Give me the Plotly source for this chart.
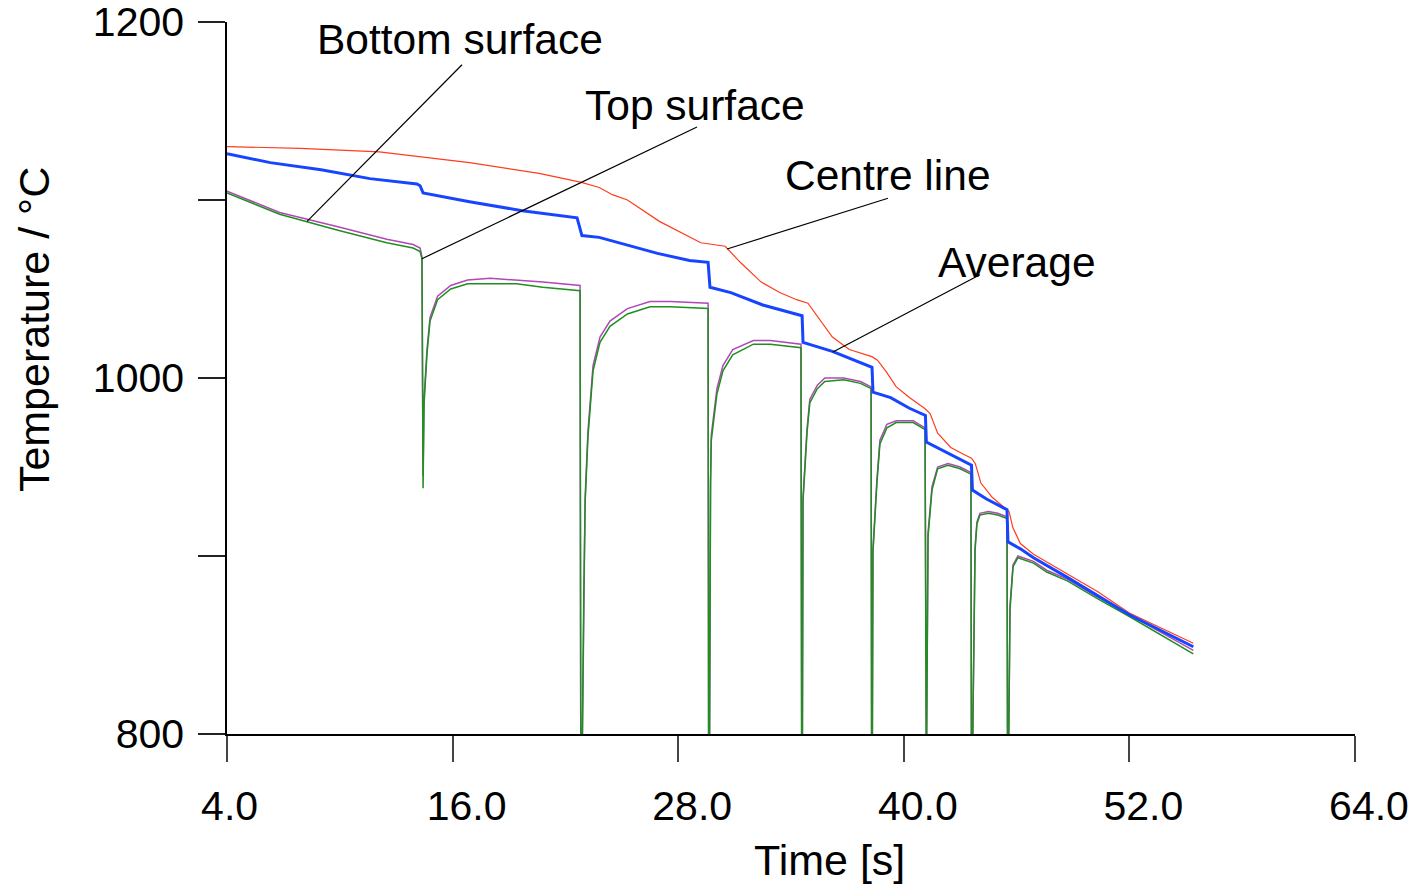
import plotly.graph_objects as go

# ---------------- data ----------------
centre_t = [4.0, 7.9, 12.1, 16.9, 20.6, 22.8, 23.8, 24.5, 25.3, 27.0, 29.2, 30.5, 31.3,
            32.4, 33.4, 34.3, 34.9, 35.5, 36.2, 37.1, 37.7, 38.3, 38.6, 39.1, 39.6, 40.3,
            41.1, 41.4, 41.8, 42.5, 43.2, 43.6, 43.8, 44.1, 44.7, 45.6, 45.8, 46.2, 46.9,
            48.7, 50.3, 52.0, 55.4]
centre_T = [1130, 1129, 1127, 1121, 1115, 1110, 1107, 1103, 1100, 1088, 1076, 1074, 1065,
            1054, 1048, 1044, 1042, 1033, 1023, 1016, 1014, 1012, 1010, 1003, 995, 989,
            983, 980, 969, 961, 957, 955, 952, 941, 933, 925, 916, 907, 901,
            890, 880, 868, 851]

average_t = [4.0, 6.3, 9.0, 11.6, 14.1, 14.27, 14.43, 16.9, 19.7, 22.62, 22.88, 23.8, 26.9,
             28.6, 29.59, 29.69, 30.8, 32.5, 34.59, 34.64, 36.2, 38.31, 38.36, 39.3, 40.3,
             41.15, 41.2, 42.5, 43.6, 43.65, 44.4, 45.49, 45.54, 46.2, 46.9, 48.7, 50.3,
             52.0, 55.4]
average_T = [1126, 1121, 1117, 1112, 1109, 1108, 1104, 1099, 1094, 1090, 1080, 1079, 1070,
             1066, 1065, 1051, 1048, 1041, 1035, 1020, 1015, 1006, 992, 989, 983,
             979, 964, 957, 951, 937, 932, 926, 908, 904, 899, 888, 878,
             867, 849]

top_t = [4.0, 6.8, 9.9, 12.5, 13.9, 14.27, 14.37, 14.43, 14.48, 14.64, 14.8, 15.2, 15.9,
         16.8, 18.0, 19.4, 20.8, 22.78, 22.82, 22.88, 22.98, 23.05, 23.2, 23.47, 23.84,
         24.37, 25.3, 26.5, 27.6, 29.59, 29.62, 29.66, 29.72, 29.76, 30.06, 30.38, 30.9,
         32.0, 32.9, 33.8, 34.53, 34.57, 34.6, 34.64, 34.85, 35.0, 35.4, 35.8, 36.8, 37.7,
         38.26, 38.29, 38.32, 38.36, 38.57, 38.73, 39.1, 39.6, 40.5, 41.13, 41.16, 41.2,
         41.29, 41.5, 41.8, 42.35, 43.0, 43.57, 43.6, 43.64, 43.79, 43.89, 44.05, 44.5,
         45.0, 45.49, 45.52, 45.56, 45.65, 45.76, 45.81, 46.07, 46.9, 47.6, 48.7, 50.3,
         52.0, 55.4]
top_T = [1104, 1092, 1083, 1076, 1073, 1071, 1067, 938, 985, 1014, 1032, 1044, 1050,
         1053, 1053, 1053, 1051, 1049, 775, 775, 880, 930, 967, 1004, 1020,
         1029, 1036, 1040, 1040, 1039, 775, 775, 940, 965, 991, 1004, 1013,
         1019, 1019, 1018, 1017, 775, 775, 931, 969, 986, 994, 998, 999, 997,
         994, 775, 775, 902, 941, 963, 972, 975, 975, 971, 775, 775,
         911, 937, 949, 951, 949, 946, 775, 775, 903, 918, 923, 924,
         923, 921, 775, 775, 870, 888, 894, 899, 896, 891, 886, 876,
         866, 845]

bottom_t = [4.0, 6.8, 9.9, 12.5, 13.9, 14.27, 14.37, 14.43, 14.48, 14.64, 14.8, 15.2, 15.9,
            16.8, 18.0, 19.4, 20.8, 22.78, 22.82, 22.88, 22.98, 23.05, 23.2, 23.47, 23.84,
            24.37, 25.3, 26.5, 27.6, 29.59, 29.62, 29.66, 29.72, 29.76, 30.06, 30.38, 30.9,
            32.0, 32.9, 33.8, 34.53, 34.57, 34.6, 34.64, 34.85, 35.0, 35.4, 35.8, 36.8, 37.7,
            38.26, 38.29, 38.32, 38.36, 38.57, 38.73, 39.1, 39.6, 40.5, 41.13, 41.16, 41.2,
            41.29, 41.5, 41.8, 42.35, 43.0, 43.57, 43.6, 43.64, 43.79, 43.89, 44.05, 44.5,
            45.0, 45.49, 45.52, 45.56, 45.65, 45.76, 45.81, 46.07, 46.9, 47.6, 48.7, 50.3,
            52.0, 55.4]
bottom_T = [1105, 1093, 1085, 1078, 1075, 1073, 1068, 945, 988, 1016, 1034, 1046, 1052,
            1055, 1056, 1055, 1054, 1052, 775, 775, 885, 933, 970, 1007, 1023,
            1032, 1039, 1043, 1043, 1042, 775, 775, 942, 968, 994, 1007, 1016,
            1021, 1021, 1020, 1019, 775, 775, 933, 971, 988, 996, 1000, 1000, 998,
            995, 775, 775, 904, 943, 965, 974, 976, 976, 972, 775, 775,
            913, 939, 950, 952, 950, 947, 775, 775, 905, 919, 924, 925,
            924, 922, 775, 775, 872, 889, 895, 900, 897, 892, 887, 877,
            867, 847]

x_tick_vals = [4, 16, 28, 40, 52, 64]
x_tick_text = ["4.0\u2007", "16.0", "28.0", "40.0", "52.0", "64.0"]
y_tick_vals = [800, 900, 1000, 1100, 1200]
y_tick_text = ["800", "", "1000", "", "1200"]

label_text = ["Bottom surface", "Top surface", "Centre line", "Average"]
label_x = [16.4, 28.9, 39.16, 46.0]
label_y = [1190, 1153, 1114, 1065]
leader_x0 = [16.5, 29.0, 39.16, 44.05]
leader_y0 = [1176, 1141, 1101, 1058]
leader_x1 = [8.26, 14.37, 30.6, 36.23]
leader_y1 = [1088, 1067, 1072.5, 1014.6]

# ---------------- figure ----------------
FONT = "Liberation Sans, Arial, Helvetica, sans-serif"

fig = go.Figure()
fig.add_trace(go.Scatter(x=bottom_t, y=bottom_T, mode="lines", name="Bottom surface",
                         line=dict(color="#b048b8", width=1.5)))
fig.add_trace(go.Scatter(x=top_t, y=top_T, mode="lines", name="Top surface",
                         line=dict(color="#1f8f1f", width=1.5)))
fig.add_trace(go.Scatter(x=centre_t, y=centre_T, mode="lines", name="Centre line",
                         line=dict(color="#ff3c1e", width=1.2)))
fig.add_trace(go.Scatter(x=average_t, y=average_T, mode="lines", name="Average",
                         line=dict(color="#1744ff", width=3)))

for x0, y0, x1, y1 in zip(leader_x0, leader_y0, leader_x1, leader_y1):
    fig.add_shape(type="line", xref="x", yref="y", x0=x0, y0=y0, x1=x1, y1=y1,
                  line=dict(color="black", width=1.2))

for txt, x, y in zip(label_text, label_x, label_y):
    fig.add_annotation(x=x, y=y, xref="x", yref="y", text=txt, showarrow=False,
                       xanchor="center", yanchor="middle",
                       font=dict(family=FONT, size=42.5, color="black"))

fig.add_annotation(x=0.5337, y=-0.177, xref="paper", yref="paper", text="Time [s]",
                   showarrow=False, xanchor="center", yanchor="middle",
                   font=dict(family=FONT, size=43, color="black"))
fig.add_annotation(x=-0.171, y=0.5674, xref="paper", yref="paper", text="Temperature / °C",
                   textangle=-90, showarrow=False, xanchor="center", yanchor="middle",
                   font=dict(family=FONT, size=43, color="black"))

fig.update_layout(
    width=1416, height=885,
    margin=dict(l=227, r=61, t=22, b=151, autoexpand=False),
    paper_bgcolor="white", plot_bgcolor="white",
    showlegend=False,
    font=dict(family=FONT, size=41, color="black"),
    xaxis=dict(range=[4, 64], tickvals=x_tick_vals, ticktext=x_tick_text,
               ticks="outside", ticklen=26, tickwidth=1.5, tickcolor="#444",
               showline=True, linecolor="black", linewidth=1.5,
               showgrid=False, zeroline=False, automargin=False,
               ticklabeloverflow="allow",
               tickfont=dict(family=FONT, size=41, color="black"),
               ticklabelstandoff=9, ticklabelshift=14),
    yaxis=dict(range=[800, 1200], tickvals=y_tick_vals, ticktext=y_tick_text,
               ticks="outside", ticklen=27, tickwidth=1.5, tickcolor="#222",
               showline=True, linecolor="black", linewidth=1.5,
               showgrid=False, zeroline=False, automargin=False,
               ticklabeloverflow="allow",
               tickfont=dict(family=FONT, size=41, color="black"),
               ticklabelstandoff=6),
)

fig.write_html("out.html")
